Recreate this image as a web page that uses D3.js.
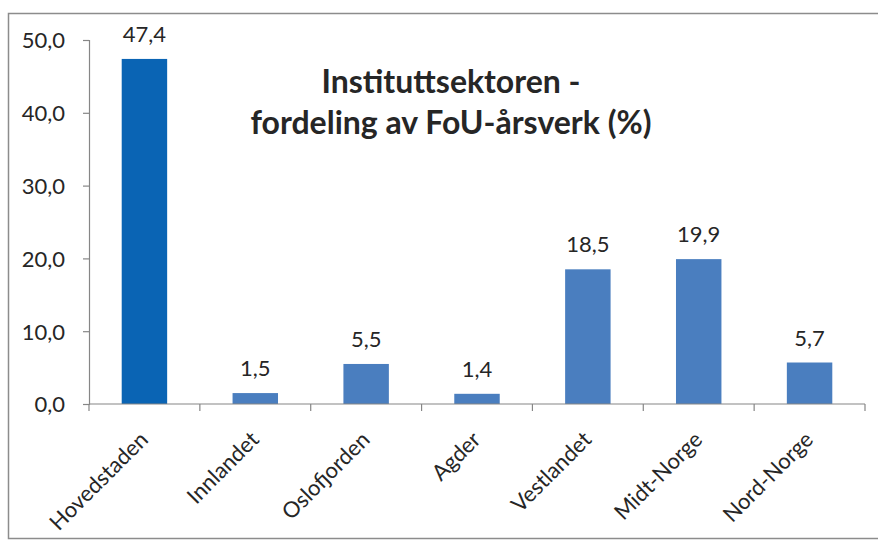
<!DOCTYPE html>
<html>
<head>
<meta charset="utf-8">
<script src="https://cdn.jsdelivr.net/npm/d3@7"></script>
<style>
  html, body { margin: 0; padding: 0; background: #fff; }
  svg { display: block; }
  text { font-family: Lato, "Open Sans", sans-serif; fill: #262626; }
</style>
</head>
<body>
<svg id="chart" width="878" height="540"></svg>
<script>
const categories = ["Hovedstaden", "Innlandet", "Oslofjorden", "Agder", "Vestlandet", "Midt-Norge", "Nord-Norge"];
const values = [47.4, 1.5, 5.5, 1.4, 18.5, 19.9, 5.7];
const barColors = ["#0a64b4", "#4a7ebf", "#4a7ebf", "#4a7ebf", "#4a7ebf", "#4a7ebf", "#4a7ebf"];
const yTicks = [0, 10, 20, 30, 40, 50];
const titleLines = ["Instituttsektoren -", "fordeling av FoU-årsverk (%)"];

const fmt = v => d3.format(".1f")(v).replace(".", ",");

const svg = d3.select("#chart");

// outer frame
svg.append("rect")
  .attr("x", 8.5).attr("y", 13.5)
  .attr("width", 900).attr("height", 525)
  .attr("fill", "#fff")
  .attr("stroke", "#8c8c8c").attr("stroke-width", 1.5);

const x = d3.scaleBand().domain(categories).range([89, 865]).paddingInner(0.59).paddingOuter(0.295);
const y = d3.scaleLinear().domain([0, 50]).range([404, 40]);
const axisColor = "#868686";

// y axis
const yAxis = svg.append("g").attr("transform", "translate(89,0)")
  .call(d3.axisLeft(y).tickValues(yTicks).tickFormat(fmt).tickSize(6).tickPadding(18));
yAxis.select(".domain").attr("stroke", axisColor).attr("stroke-width", 1.2);
yAxis.selectAll(".tick line").attr("stroke", axisColor).attr("stroke-width", 1.2);
yAxis.selectAll("text").attr("font-size", 22).attr("fill", "#262626").attr("dy", "0.36em")
  .style("font-family", "Lato, sans-serif");

// bars
svg.append("g").selectAll("rect").data(values).join("rect")
  .attr("x", (d, i) => x(categories[i]))
  .attr("y", d => y(d))
  .attr("width", x.bandwidth())
  .attr("height", d => y(0) - y(d))
  .attr("fill", (d, i) => barColors[i]);

// x axis line + boundary ticks
const step = x.step();
const xg = svg.append("g");
xg.append("line").attr("x1", 89).attr("x2", 865).attr("y1", y(0)).attr("y2", y(0))
  .attr("stroke", axisColor).attr("stroke-width", 1.2);
const bounds = d3.range(categories.length + 1).map(i => 89 + i * step);
xg.selectAll("line.tk").data(bounds).join("line").attr("class", "tk")
  .attr("x1", d => d).attr("x2", d => d)
  .attr("y1", y(0)).attr("y2", y(0) + 7)
  .attr("stroke", axisColor).attr("stroke-width", 1.2);

// category labels rotated
xg.selectAll("text.cat").data(categories).join("text").attr("class", "cat")
  .attr("transform", d => `translate(${x(d) + x.bandwidth() / 2 + 5},${y(0) + 37}) rotate(-45)`)
  .attr("text-anchor", "end")
  .attr("font-size", 22)
  .text(d => d);

// value labels
svg.append("g").selectAll("text").data(values).join("text")
  .attr("x", (d, i) => x(categories[i]) + x.bandwidth() / 2)
  .attr("y", d => y(d) - 17)
  .attr("text-anchor", "middle")
  .attr("font-size", 22)
  .text(d => fmt(d));

// title
svg.append("g").selectAll("text").data(titleLines).join("text")
  .attr("x", 451)
  .attr("y", (d, i) => 93 + i * 41)
  .attr("text-anchor", "middle")
  .attr("font-size", 32)
  .attr("font-weight", "bold")
  .attr("fill", "#1a1a1a")
  .text(d => d);
</script>
</body>
</html>
